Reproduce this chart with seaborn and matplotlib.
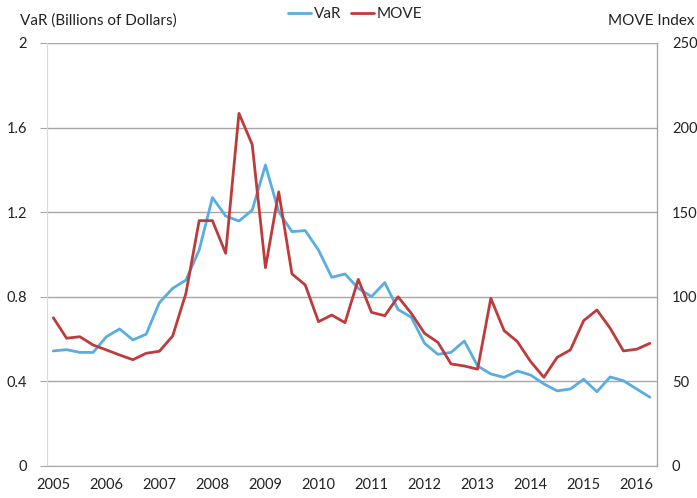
import numpy as np
import pandas as pd
import matplotlib
matplotlib.use("Agg")
import matplotlib.pyplot as plt
import seaborn as sns

# quarterly values, 2005Q1 - 2016Q2
var_values = [0.544, 0.550, 0.537, 0.537, 0.611, 0.648, 0.596, 0.623, 0.772, 0.840,
              0.879, 1.021, 1.269, 1.182, 1.158, 1.210, 1.423, 1.202, 1.108, 1.113,
              1.021, 0.892, 0.908, 0.840, 0.801, 0.867, 0.740, 0.703, 0.580, 0.528,
              0.537, 0.591, 0.473, 0.435, 0.419, 0.449, 0.430, 0.388, 0.355, 0.364,
              0.410, 0.351, 0.421, 0.403, 0.364, 0.325]
move_values = [87.6, 75.5, 76.4, 71.5, 68.6, 65.6, 62.8, 66.6, 67.8, 76.8,
               102.0, 145.0, 145.0, 125.7, 208.4, 190.0, 117.2, 162.0, 113.5, 107.0,
               85.3, 89.2, 84.7, 110.3, 90.8, 88.8, 100.0, 90.2, 78.4, 73.1,
               60.3, 59.1, 57.2, 99.1, 80.0, 73.5, 61.7, 52.4, 64.2, 68.6,
               85.9, 92.2, 81.4, 68.0, 69.0, 72.5]
years = [2005, 2006, 2007, 2008, 2009, 2010, 2011, 2012, 2013, 2014, 2015, 2016]
left_ticks = [0, 0.4, 0.8, 1.2, 1.6, 2]
right_ticks = [0, 50, 100, 150, 200, 250]

BLUE = "#5aade0"
RED = "#be3b3b"
GRID = "#a6a6a6"
TXT = "#222222"
FS = 10.5

df = pd.DataFrame({"q": np.arange(len(var_values)), "VaR": var_values, "MOVE": move_values})

sns.set_style("white")
plt.rcParams["font.family"] = ["Lato", "DejaVu Sans"]

fig = plt.figure(figsize=(6.97, 4.98), dpi=100)
ax = fig.add_axes([0.067, 0.0643, 0.875, 0.8494])
ax2 = ax.twinx()

sns.lineplot(data=df, x="q", y="VaR", ax=ax, color=BLUE, linewidth=2.0, label="VaR", legend=False)
sns.lineplot(data=df, x="q", y="MOVE", ax=ax2, color=RED, linewidth=2.0, label="MOVE", legend=False)

ax.set_xlim(-0.5, len(var_values) - 0.5)
ax.set_ylim(0, 2)
ax2.set_ylim(0, 250)

# left axis + gridlines
ax.set_yticks(left_ticks)
ax.set_yticklabels(["0", "0.4", "0.8", "1.2", "1.6", "2"])
ax.yaxis.grid(True, color=GRID, linewidth=1.0)
ax.set_axisbelow(True)
ax.tick_params(axis="y", length=5, color=GRID, pad=9, labelsize=FS, labelcolor=TXT)

# x axis: year labels under first quarter, marks between years
ax.set_xticks([4 * i for i in range(len(years))])
ax.set_xticklabels([str(y) for y in years])
ax.set_xticks([4 * i - 0.5 for i in range(len(years))], minor=True)
ax.tick_params(axis="x", which="major", length=0, pad=9, labelsize=FS, labelcolor=TXT)
ax.tick_params(axis="x", which="minor", length=5, color=GRID)

ax2.set_yticks(right_ticks)
ax2.tick_params(axis="y", length=0, pad=11, labelsize=FS, labelcolor=TXT)

ax.set_xlabel("")
ax.set_ylabel("")
ax2.set_ylabel("")

for a in (ax, ax2):
    a.spines["top"].set_visible(False)
ax.spines["left"].set_color("#d9d9d9")
ax.spines["bottom"].set_color(GRID)
ax2.spines["left"].set_visible(False)
ax2.spines["bottom"].set_visible(False)
ax2.spines["right"].set_color(GRID)

fig.text(0.029, 0.958, "VaR (Billions of Dollars)", fontsize=11, color=TXT, va="center")
fig.text(0.997, 0.958, "MOVE Index", fontsize=11, color=TXT, va="center", ha="right")

h1, l1 = ax.get_legend_handles_labels()
h2, l2 = ax2.get_legend_handles_labels()
fig.legend(h1 + h2, l1 + l2, loc="center", bbox_to_anchor=(0.51, 0.972), ncol=2,
           frameon=False, fontsize=11, handlelength=1.5, handletextpad=0.2,
           columnspacing=0.6)

fig.savefig("out.png", dpi=100)
